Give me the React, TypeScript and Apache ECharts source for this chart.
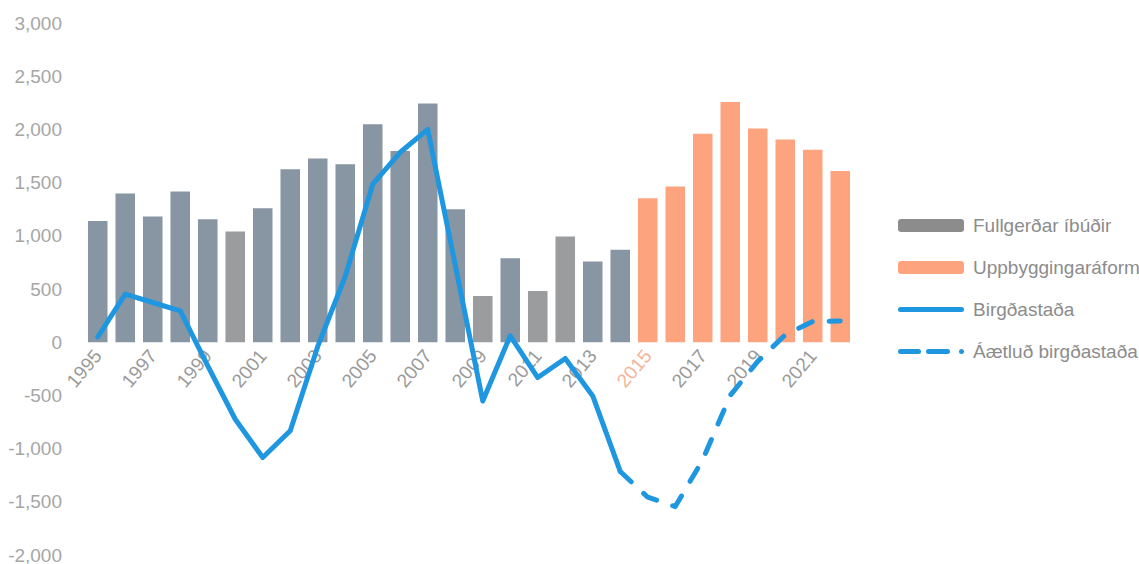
import React, { useEffect, useRef } from "react";
import * as echarts from "echarts";

const years = [
  "1995", "1996", "1997", "1998", "1999", "2000", "2001", "2002", "2003", "2004",
  "2005", "2006", "2007", "2008", "2009", "2010", "2011", "2012", "2013", "2014",
  "2015", "2016", "2017", "2018", "2019", "2020", "2021", "2022",
];

const completed = [
  1140, 1397, 1181, 1416, 1156, 1040, 1259, 1626, 1726, 1673,
  2049, 1798, 2243, 1250, 435, 789, 482, 993, 758, 868,
];

const planned = [1353, 1463, 1958, 2258, 2008, 1905, 1808, 1610];

const stock = [
  50, 451, 373, 294, -222, -724, -1084, -833, -40, 620,
  1485, 1785, 2000, 724, -552, 60, -332, -153, -505, -1215,
];

const projectedStock = [-1215, -1457, -1545, -1105, -500, -180, 70, 195, 200];

const neutralGreyYears = ["2000", "2009", "2011", "2012"];

const Y_MIN = -2000;
const Y_MAX = 3000;

const FONT = '"Liberation Sans", Arial, sans-serif';

const SOLID_ICON =
  "path://M2.5,0H63.5A2.5,2.5 0 0 1 63.5,5H2.5A2.5,2.5 0 0 1 2.5,0Z";
const DASHED_ICON =
  "path://M2.5,0H20.5A2.5,2.5 0 0 1 20.5,5H2.5A2.5,2.5 0 0 1 2.5,0Z" +
  "M30.5,0H49.5A2.5,2.5 0 0 1 49.5,5H30.5A2.5,2.5 0 0 1 30.5,0Z" +
  "M63.5,0A2.5,2.5 0 0 1 63.5,5A2.5,2.5 0 0 1 63.5,0Z";

const W = 1139;
const H = 564;
const GRID_TOP = 23;
const GRID_BOTTOM = 9;

export default function App() {
  const ref = useRef<HTMLDivElement>(null);

  useEffect(() => {
    document.body.style.margin = "0";
    const chart = echarts.init(ref.current!, null, { renderer: "svg" });

    const n = years.length;
    const greyData = years.map((y, i) =>
      i < completed.length
        ? {
            value: completed[i],
            itemStyle: { color: neutralGreyYears.includes(y) ? "#9a9c9e" : "#8895a2" },
          }
        : null
    );
    const orangeData = years.map((_, i) =>
      i >= completed.length ? planned[i - completed.length] : null
    );
    const stockData = years.map((_, i) => (i < stock.length ? stock[i] : null));
    const projStart = n - projectedStock.length;
    const projData = years.map((_, i) => (i >= projStart ? projectedStock[i - projStart] : null));

    // place the category axis (labels) at the zero line
    const plotH = H - GRID_TOP - GRID_BOTTOM;
    const zeroOffset = -(plotH * (0 - Y_MIN)) / (Y_MAX - Y_MIN);

    chart.setOption({
      animation: false,
      textStyle: { fontFamily: FONT },
      grid: {
        left: 84,
        right: 285,
        top: GRID_TOP,
        bottom: GRID_BOTTOM,
        containLabel: false,
        outerBoundsMode: "none",
      },
      legend: {
        orient: "vertical",
        left: 893,
        top: 211,
        itemWidth: 66,
        itemHeight: 13,
        itemGap: 23,
        textStyle: { fontFamily: FONT, fontSize: 19, color: "#8c8c8c", padding: [0, 0, 0, 4] },
        data: [
          { name: "Fullgerðar íbúðir", itemStyle: { color: "#8c8c8c" } },
          { name: "Uppbyggingaráform" },
          { name: "Birgðastaða", icon: SOLID_ICON },
          { name: "Áætluð birgðastaða", icon: DASHED_ICON },
        ],
      },
      xAxis: {
        type: "category",
        data: years,
        position: "bottom",
        offset: zeroOffset,
        axisLine: { show: false, onZero: false },
        axisTick: { show: false },
        axisLabel: {
          interval: 1,
          rotate: 50,
          margin: 10,
          fontFamily: FONT,
          fontSize: 19,
          color: (v: string) => (v === "2015" ? "#f5b49a" : "#9a9a9a"),
        },
      },
      yAxis: {
        type: "value",
        min: Y_MIN,
        max: Y_MAX,
        interval: 500,
        axisLine: { show: false },
        axisTick: { show: false },
        splitLine: { show: false },
        axisLabel: {
          margin: 22,
          fontFamily: FONT,
          fontSize: 19,
          color: "#a6a6a6",
          formatter: (v: number) => v.toLocaleString("en-US"),
        },
      },
      series: [
        {
          name: "Fullgerðar íbúðir",
          type: "bar",
          stack: "bars",
          barWidth: "71%",
          itemStyle: { color: "#8c8c8c" },
          data: greyData,
        },
        {
          name: "Uppbyggingaráform",
          type: "bar",
          stack: "bars",
          barWidth: "71%",
          itemStyle: { color: "#fda47f" },
          data: orangeData,
        },
        {
          name: "Birgðastaða",
          type: "line",
          symbol: "none",
          lineStyle: { color: "#1f97e0", width: 5, cap: "round", join: "round" },
          itemStyle: { color: "#1f97e0" },
          data: stockData,
          z: 5,
        },
        {
          name: "Áætluð birgðastaða",
          type: "line",
          symbol: "none",
          lineStyle: {
            color: "#1f97e0",
            width: 5,
            type: [15, 17],
            cap: "round",
            join: "round",
          },
          itemStyle: { color: "#1f97e0" },
          data: projData,
          z: 5,
        },
      ],
    });

    return () => chart.dispose();
  }, []);

  return <div ref={ref} style={{ width: W, height: H }} />;
}
